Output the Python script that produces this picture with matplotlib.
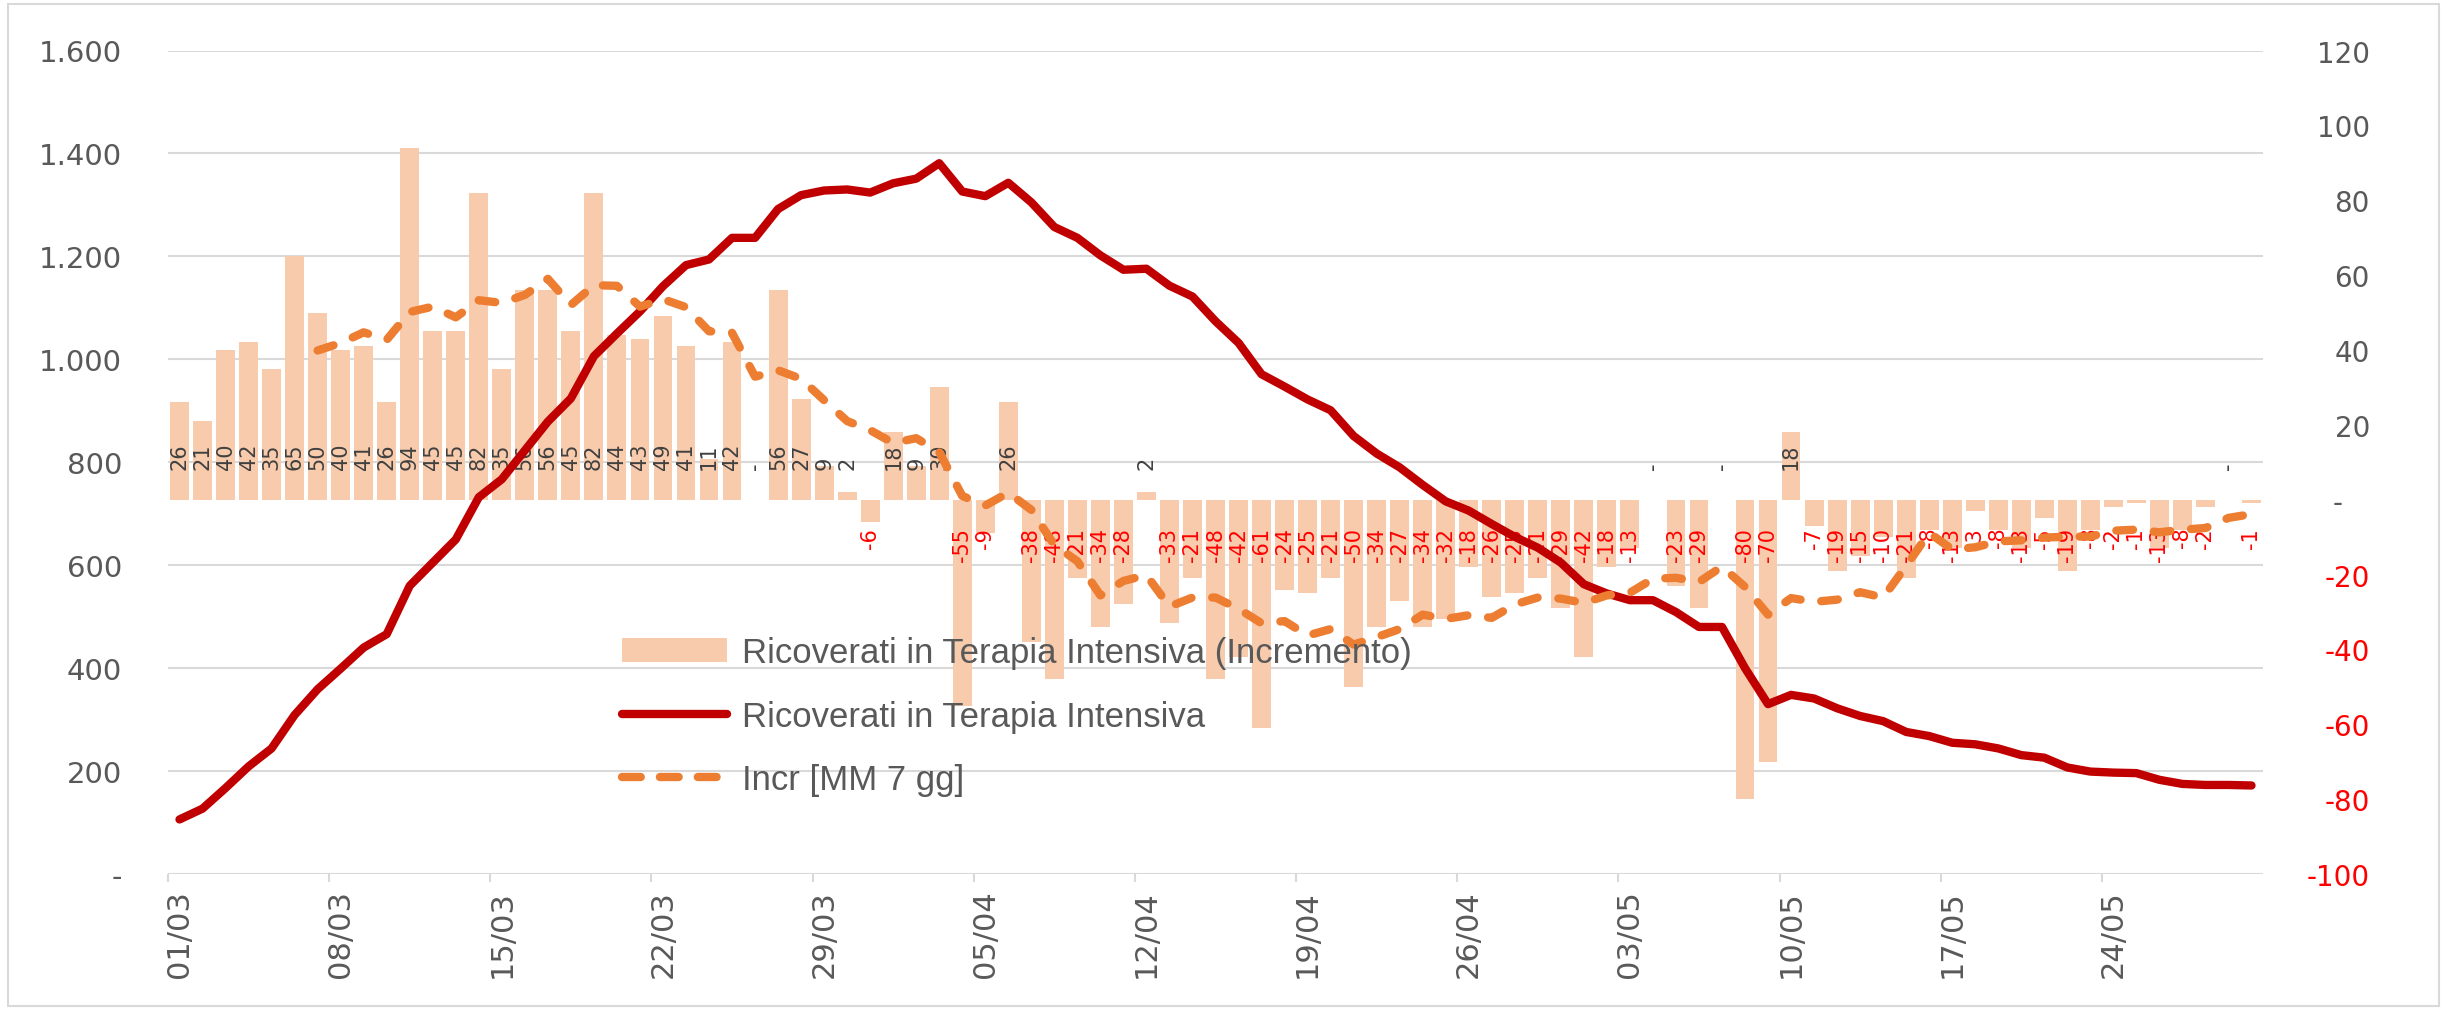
import matplotlib
matplotlib.use("Agg")
import matplotlib.pyplot as plt
from matplotlib.patches import Patch, Rectangle
from matplotlib.lines import Line2D

# categories: 01/03 .. 30/05
days = ([f"{d:02d}/03" for d in range(1, 32)]
        + [f"{d:02d}/04" for d in range(1, 31)]
        + [f"{d:02d}/05" for d in range(1, 31)])

# daily increment of ICU patients (bars, right axis)
incr = [26, 21, 40, 42, 35, 65, 50, 40, 41, 26,
        94, 45, 45, 82, 35, 56, 56, 45, 82, 44,
        43, 49, 41, 11, 42, 0, 56, 27, 9, 2,
        -6, 18, 9, 30, -55, -9, 26, -38, -48, -21,
        -34, -28, 2, -33, -21, -48, -42, -61, -24, -25,
        -21, -50, -34, -27, -34, -32, -18, -26, -25, -21,
        -29, -42, -18, -13, 0, -23, -29, 0, -80, -70,
        18, -7, -19, -15, -10, -21, -8, -13, -3, -8,
        -13, -5, -19, -8, -2, -1, -13, -8, -2, 0,
        -1]

# ICU patients (red line, left axis)
icu = [106, 127, 167, 209, 244, 309, 359, 399, 440, 466,
       560, 605, 650, 732, 767, 823, 879, 924, 1006, 1050,
       1093, 1142, 1183, 1194, 1236, 1236, 1292, 1319, 1328, 1330,
       1324, 1342, 1351, 1381, 1326, 1317, 1343, 1305, 1257, 1236,
       1202, 1174, 1176, 1143, 1122, 1074, 1032, 971, 947, 922,
       901, 851, 817, 790, 756, 724, 706, 680, 655, 634,
       605, 563, 545, 532, 532, 509, 480, 480, 400, 330,
       348, 341, 322, 307, 297, 276, 268, 255, 252, 244,
       231, 226, 207, 199, 197, 196, 183, 175, 173, 173,
       172]

# 7-day moving average of the increment (dashed, right axis), from 07/03
ma7 = [39.86, 41.86, 44.71, 42.71, 50.14, 51.57, 48.71, 53.29, 52.57, 54.71,
       59.0, 52.0, 57.29, 57.14, 51.57, 53.57, 51.43, 45.0, 44.57, 32.86,
       34.57, 32.29, 26.57, 21.0, 18.57, 15.14, 16.43, 12.71, 1.0, -1.57,
       1.86, -2.71, -12.14, -16.43, -25.57, -21.71, -20.14, -28.57, -26.14, -26.14,
       -29.14, -33.0, -32.43, -36.29, -34.57, -38.71, -36.71, -34.57, -30.71, -31.86,
       -30.86, -31.57, -28.0, -26.14, -26.43, -27.57, -25.57, -24.86, -21.14, -20.86,
       -22.0, -17.86, -23.29, -30.71, -26.29, -27.29, -26.71, -24.71, -26.14, -17.71,
       -8.86, -13.29, -12.71, -11.14, -10.86, -10.14, -9.86, -9.86, -8.29, -8.0,
       -8.71, -8.0, -7.57, -4.86, -3.86]
ma_start = 6

left_ticks = [0, 200, 400, 600, 800, 1000, 1200, 1400, 1600]
right_ticks = [-100, -80, -60, -40, -20, 0, 20, 40, 60, 80, 100, 120]

labels = ["Ricoverati in Terapia Intensiva (Incremento)",
          "Ricoverati in Terapia Intensiva",
          "Incr [MM 7 gg]"]

BAR = "#F8CBAD"
RED = "#C00000"
ORANGE = "#ED7D31"
GREY = "#595959"
GRID = "#D9D9D9"

W, H, DPI = 2447, 1012, 100
fig = plt.figure(figsize=(W / DPI, H / DPI), dpi=DPI)
fig.add_artist(Rectangle((8 / W, 5 / H), (2439 - 8) / W, (1007 - 5) / H,
                         transform=fig.transFigure, fill=False,
                         edgecolor=GRID, linewidth=1.5))

x0, x1, ytop, ybot = 168, 2263, 51.5, 875
axL = fig.add_axes([x0 / W, 1 - ybot / H, (x1 - x0) / W, (ybot - ytop) / H])
axB = axL.twinx()
axR = axL.twinx()
axM = axL.twinx()

xs = list(range(len(days)))
n = len(days)

# base axis: grid + left scale + dates
axL.set_xlim(-0.5, n - 0.5)
axL.set_ylim(left_ticks[0], left_ticks[-1])
axL.set_yticks(left_ticks,
               ["-" if v == 0 else f"{v:,}".replace(",", ".") for v in left_ticks])
axL.tick_params(axis="y", length=0, pad=33, labelsize=21, labelcolor=GREY)
axL.grid(axis="y", color=GRID, linewidth=1.5)
axL.set_xticks(xs[::7], days[::7])
axL.set_xticks([i - 0.5 for i in xs[::7]], minor=True)
axL.tick_params(axis="x", which="major", length=0, pad=11, labelsize=22,
                labelcolor=GREY, labelrotation=90)
axL.tick_params(axis="x", which="minor", length=6, width=1.5, color=GRID)
for ax in (axL, axB, axR, axM):
    for sp in ax.spines.values():
        sp.set_visible(False)

# bars on right scale
axB.set_ylim(right_ticks[0], right_ticks[-1])
axB.bar(xs, incr, width=0.82, color=BAR, zorder=2)
axB.set_yticks(right_ticks,
               ["-   " if v == 0 else str(v) for v in right_ticks])
axB.tick_params(axis="y", length=0, pad=77, labelsize=20)
for lbl, v in zip(axB.get_yticklabels(), right_ticks):
    lbl.set_horizontalalignment("right")
    lbl.set_color("#FF0000" if v < 0 else GREY)
for i, v in enumerate(incr):
    if v < 0:
        axB.annotate(str(v), (i, 0), xytext=(0, -19.5), textcoords="offset points",
                     rotation=90, ha="center", va="top", fontsize=15,
                     color="#FF0000", zorder=3)
    else:
        axB.annotate(str(v) if v else "-", (i, 0), xytext=(0, 22.3),
                     textcoords="offset points", rotation=90, ha="center",
                     va="bottom", fontsize=15, color="#404040", zorder=3)

# ICU line on left scale
axR.set_ylim(left_ticks[0], left_ticks[-1])
axR.set_yticks([])
axR.plot(xs, icu, color=RED, linewidth=6, solid_joinstyle="round",
         solid_capstyle="round")

# moving average on right scale
axM.set_ylim(right_ticks[0], right_ticks[-1])
axM.set_yticks([])
axM.plot(xs[ma_start:], ma7, color=ORANGE, linewidth=6, dashes=(2.0, 2.5),
         dash_capstyle="round", dash_joinstyle="round")

handles = [Patch(facecolor=BAR, edgecolor="none"),
           Line2D([], [], color=RED, linewidth=6, solid_capstyle="round"),
           Line2D([], [], color=ORANGE, linewidth=6, dashes=(2.25, 2.3),
                  dash_capstyle="round")]
fig.legend(handles, labels, loc="upper left",
           bbox_to_anchor=(622 / W, 1 - 637 / H), frameon=False,
           prop={"family": ["Liberation Sans", "DejaVu Sans"], "size": 25},
           labelcolor=GREY, handlelength=3.03, handleheight=0.68,
           handletextpad=0.43, labelspacing=0.88, borderpad=0, borderaxespad=0)

fig.savefig("out.png", dpi=DPI, facecolor="white")
